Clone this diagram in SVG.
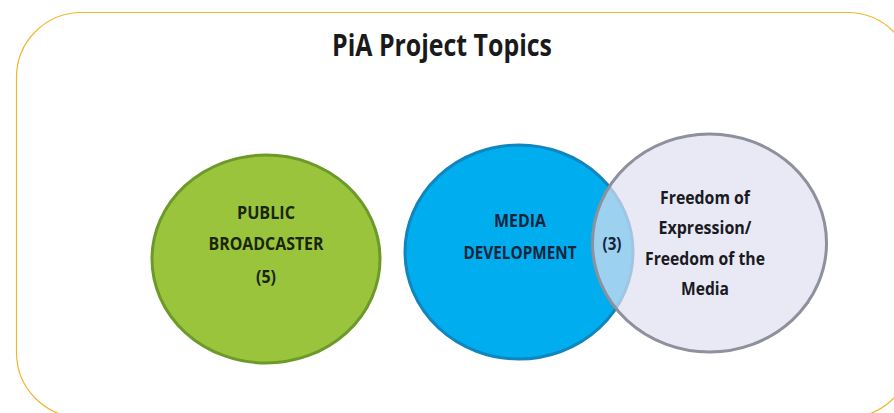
<svg xmlns="http://www.w3.org/2000/svg" width="894" height="413" viewBox="0 0 894 413">
  <style>
    .frame { fill: #ffffff; stroke: #F4B52E; stroke-width: 1.2; }
    .title { font-family: "Open Sans", "Liberation Sans", sans-serif; font-weight: 700; font-size: 30px; fill: #1a1a1a; text-anchor: middle; }
    .lbl { font-family: "Open Sans", "Liberation Sans", sans-serif; font-weight: 700; font-size: 17.5px; text-anchor: middle; }
    .green { fill: #9AC43C; stroke: #6C9A2A; stroke-width: 3; }
    .blue { fill: #00AEEF; stroke: #1185BE; stroke-width: 3; }
    .grey { fill: #DEE0F1; fill-opacity: 0.7; stroke: #8E909C; stroke-width: 3; }
    .tg { fill: #1A260C; }
    .tb { fill: #14243A; }
    .tl { fill: #1A1A22; }
  </style>

  <!-- rounded frame -->
  <rect class="frame" x="16.5" y="12.5" width="896" height="405" rx="65" ry="65"/>

  <text class="title" x="442" y="56" textLength="220" lengthAdjust="spacingAndGlyphs">PiA Project Topics</text>

  <g id="public-broadcaster">
    <ellipse class="green" cx="266" cy="259" rx="114" ry="104"/>
    <text class="lbl tg" x="266" y="219" textLength="58" lengthAdjust="spacingAndGlyphs">PUBLIC</text>
    <text class="lbl tg" x="266" y="250" textLength="115" lengthAdjust="spacingAndGlyphs">BROADCASTER</text>
    <text class="lbl tg" x="266" y="283" textLength="20" lengthAdjust="spacingAndGlyphs">(5)</text>
  </g>

  <g id="media-development">
    <ellipse class="blue" cx="519" cy="252" rx="114" ry="107"/>
    <text class="lbl tb" x="520" y="227" textLength="52" lengthAdjust="spacingAndGlyphs">MEDIA</text>
    <text class="lbl tb" x="520" y="259" textLength="113" lengthAdjust="spacingAndGlyphs">DEVELOPMENT</text>
  </g>

  <g id="freedom-of-expression">
    <ellipse class="grey" cx="709.5" cy="243" rx="117" ry="109"/>
    <text class="lbl tl" x="705" y="204" textLength="90" lengthAdjust="spacingAndGlyphs">Freedom of</text>
    <text class="lbl tl" x="705" y="234" textLength="93" lengthAdjust="spacingAndGlyphs">Expression/</text>
    <text class="lbl tl" x="705" y="265" textLength="120" lengthAdjust="spacingAndGlyphs">Freedom of the</text>
    <text class="lbl tl" x="705" y="295" textLength="48" lengthAdjust="spacingAndGlyphs">Media</text>
  </g>

  <g id="overlap">
    <text class="lbl tb" x="612" y="250" textLength="19" lengthAdjust="spacingAndGlyphs">(3)</text>
  </g>

  <g id="connectors"></g>
</svg>
